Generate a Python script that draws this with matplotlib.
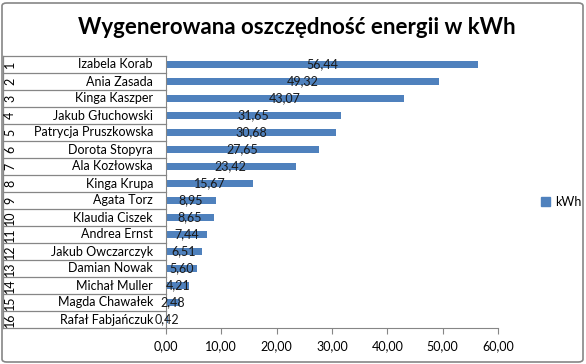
import matplotlib.pyplot as plt
import matplotlib.transforms as mtransforms
from matplotlib.patches import FancyBboxPatch, Patch
from matplotlib.ticker import FuncFormatter

# data
numbers = [str(i) for i in range(1, 17)]
names = ['Izabela Korab', 'Ania Zasada', 'Kinga Kaszper', 'Jakub Głuchowski',
         'Patrycja Pruszkowska', 'Dorota Stopyra', 'Ala Kozłowska', 'Kinga Krupa',
         'Agata Torz', 'Klaudia Ciszek', 'Andrea Ernst', 'Jakub Owczarczyk',
         'Damian Nowak', 'Michał Muller', 'Magda Chawałek', 'Rafał Fabjańczuk']
kwh = [56.44, 49.32, 43.07, 31.65, 30.68, 27.65, 23.42, 15.67,
       8.95, 8.65, 7.44, 6.51, 5.60, 4.21, 2.48, 0.42]

plt.rcParams['font.family'] = ['Lato', 'DejaVu Sans']

W, H = 586, 364
fig = plt.figure(figsize=(W / 100, H / 100), dpi=100)

# chart area border (Excel-like)
fig.patches.append(FancyBboxPatch((2 / W, 2 / H), 1 - 5 / W, 1 - 5 / H,
                                  boxstyle='round,pad=0,rounding_size=0.008',
                                  transform=fig.transFigure, fill=False,
                                  edgecolor='#868686', linewidth=1.2))

ax = fig.add_axes([166 / W, 36 / H, 332 / W, 272 / H])
bar_color = '#4F81BD'
y = list(range(len(kwh)))
ax.barh(y, kwh, height=0.4, color=bar_color)

ax.set_xlim(0, 60)
ax.set_ylim(len(kwh) - 0.5, -0.5)
ax.set_xticks([0, 10, 20, 30, 40, 50, 60])
ax.xaxis.set_major_formatter(FuncFormatter(lambda v, p: f'{v:.2f}'.replace('.', ',')))
ax.tick_params(axis='x', length=4, color='#868686', labelsize=9, pad=5)
ax.set_yticks([])
for s in ['top', 'right']:
    ax.spines[s].set_visible(False)
for s in ['left', 'bottom']:
    ax.spines[s].set_color('#868686')

# value labels centred in bars
for yi, v in zip(y, kwh):
    ax.text(v / 2, yi, f'{v:.2f}'.replace('.', ','), ha='center', va='center',
            fontsize=9, color='#1a1a1a')

# category table on the left
tr = mtransforms.blended_transform_factory(fig.transFigure, ax.transData)
for i in range(len(kwh) + 1):
    ax.plot([3 / W, 166 / W], [i - 0.5, i - 0.5], transform=tr, color='#868686',
            lw=0.9, clip_on=False)
ax.plot([3 / W, 3 / W], [-0.5, len(kwh) - 0.5], transform=tr, color='#868686',
        lw=0.9, clip_on=False)
for yi, n, nm in zip(y, numbers, names):
    ax.text(153 / W, yi, nm, transform=tr, ha='right', va='center', fontsize=9)
    ax.text(10 / W, yi, n, transform=tr, ha='center', va='center', fontsize=9,
            rotation=90)

fig.text(0.507, 1 - 27 / H, 'Wygenerowana oszczędność energii w kWh',
         ha='center', va='center', fontsize=16, fontweight='bold')

fig.legend(handles=[Patch(color=bar_color, label='kWh')], loc='center left',
           bbox_to_anchor=(530 / W, 1 - 202 / H), frameon=False, fontsize=9,
           handlelength=0.7, handleheight=0.7, handletextpad=0.4)

fig.savefig('out.png', dpi=100)
